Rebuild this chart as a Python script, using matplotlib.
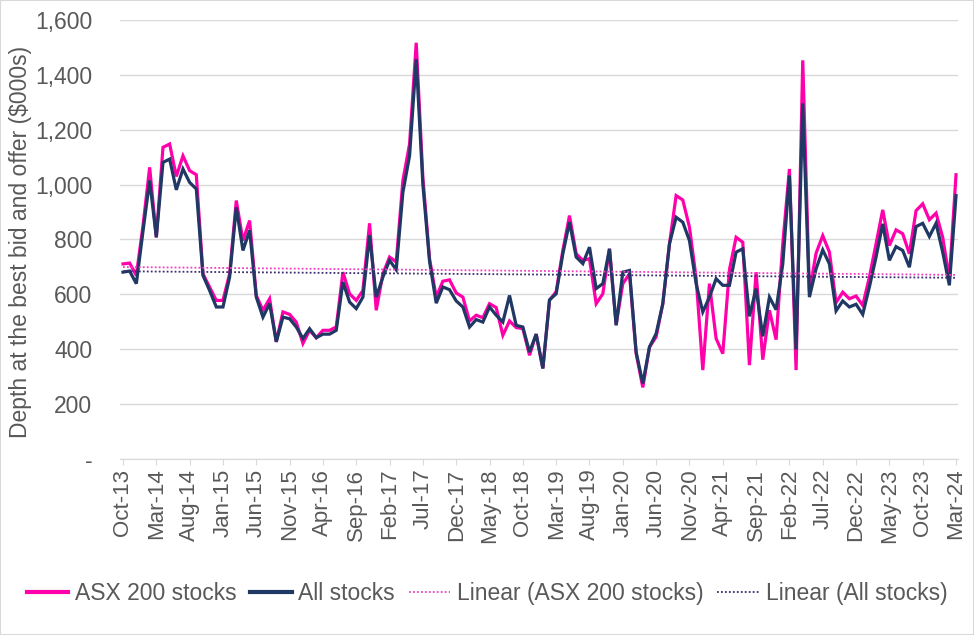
import numpy as np
import pandas as pd
import matplotlib
matplotlib.use("Agg")
import matplotlib.pyplot as plt
from matplotlib.lines import Line2D

# monthly depth at best bid/offer ($000s), Oct-13 .. Mar-24
months = pd.date_range("2013-10-01", "2024-03-01", freq="MS")
month_labels = [m.strftime("%b-%y") for m in months]

asx200 = [711, 714, 669, 850, 1063, 808, 1136, 1148, 1030, 1105, 1051, 1036, 675, 626, 578, 578,
          675, 942, 796, 869, 596, 542, 584, 427, 536, 527, 499, 421, 469, 442,
          469, 469, 481, 681, 602, 578, 614, 859, 542, 675, 736, 718, 1015, 1148, 1517,
          1025, 730,
          590, 648, 653, 605, 590, 503, 524, 515, 566, 552, 451, 503, 479, 475, 378,
          455, 330, 578, 610, 760, 887, 748, 724, 730, 566, 602, 766, 490, 639, 675,
          384, 261, 408, 445, 566, 784, 960, 944, 845, 660, 324, 639, 439, 384, 690, 808,
          790, 342, 681, 362, 542, 435, 784, 1057, 324, 1453, 610, 750, 814, 754, 570,
          608, 584, 594, 560, 663, 784, 908, 778, 835, 821, 748, 905, 930, 872, 896, 808, 657, 1036]

all_stocks = [681, 685, 639, 830, 1015, 808, 1081, 1093, 981, 1057, 1008, 984, 669, 614, 554, 554,
              663, 917, 760, 833, 590, 517, 566, 427, 517, 511, 481, 439, 475, 442,
              455, 455, 469, 645, 572, 548, 590, 815, 590, 663, 724, 690, 972, 1105, 1457,
              1000, 720,
              568, 627, 617, 576, 554, 481, 508, 499, 554, 524, 499, 596, 487, 481, 390,
              455, 330, 580, 602, 748, 863, 736, 712, 772, 621, 639, 766, 487, 681, 687,
              390, 275, 408, 457, 566, 784, 881, 863, 796, 639, 536, 590, 657, 633, 633, 754,
              766, 520, 621, 447, 590, 544, 710, 1033, 399, 1296, 590, 693, 762, 711, 540,
              576, 554, 564, 527, 627, 736, 857, 724, 774, 760, 699, 847, 859, 811, 859, 754, 633, 960]

y_ticks = [0, 200, 400, 600, 800, 1000, 1200, 1400, 1600]
y_tick_labels = ["-", "200", "400", "600", "800", "1,000", "1,200", "1,400", "1,600"]

PINK = "#FF00AA"
NAVY = "#1F3864"
TXT = "#595959"

plt.rcParams["font.family"] = ["Liberation Sans", "DejaVu Sans"]

x = np.arange(len(months))
fig = plt.figure(figsize=(9.74, 6.35), dpi=100)
ax = fig.add_axes([0.1232, 0.2772, 0.8604, 0.6913])

ax.plot(x, asx200, color=PINK, lw=2.3, solid_joinstyle="miter", zorder=3)
ax.plot(x, all_stocks, color=NAVY, lw=2.3, solid_joinstyle="miter", zorder=4)

# linear trendlines
for series, col in [(asx200, "#F23FC0"), (all_stocks, "#3B2C6E")]:
    k, b = np.polyfit(x, series, 1)
    ax.plot(x, k * x + b, color=col, lw=1.3, ls=(0, (1, 1.2)), zorder=5)

ax.set_ylim(0, 1600)
ax.set_xlim(-0.45, 125.3)
ax.set_yticks(y_ticks)
ax.set_yticklabels(y_tick_labels)
ax.yaxis.grid(True, color="#D9D9D9", lw=1)
ax.set_axisbelow(True)

ax.set_xticks(x[::5])
ax.set_xticklabels(month_labels[::5], rotation=90)

for s in ["top", "right", "left"]:
    ax.spines[s].set_visible(False)
ax.spines["bottom"].set_color("#D9D9D9")
ax.tick_params(axis="y", length=0, pad=20, labelsize=16.5, labelcolor=TXT)
ax.tick_params(axis="x", length=4, color="#D9D9D9", pad=3, labelsize=16, labelcolor=TXT)

ax.set_ylabel("Depth at the best bid and offer ($000s)", fontsize=16.5, color=TXT)
ax.yaxis.set_label_coords(-0.105, 0.494)

handles = [
    Line2D([], [], color=PINK, lw=3),
    Line2D([], [], color=NAVY, lw=3),
    Line2D([], [], color="#F23FC0", lw=1.3, ls=(0, (1, 1.2))),
    Line2D([], [], color="#3B2C6E", lw=1.3, ls=(0, (1, 1.2))),
]
names = ["ASX 200 stocks", "All stocks", "Linear (ASX 200 stocks)", "Linear (All stocks)"]
fig.legend(handles, names, loc="center", bbox_to_anchor=(0.5, 0.066), ncol=4,
           frameon=False, fontsize=16.5, labelcolor=TXT, handlelength=1.8,
           handletextpad=0.3, columnspacing=0.6)

fig.patches.append(plt.Rectangle((0, 0), 1, 1, transform=fig.transFigure,
                                 fill=False, edgecolor="#D9D9D9", lw=1.5))

fig.savefig("out.png", dpi=100, facecolor="white")
